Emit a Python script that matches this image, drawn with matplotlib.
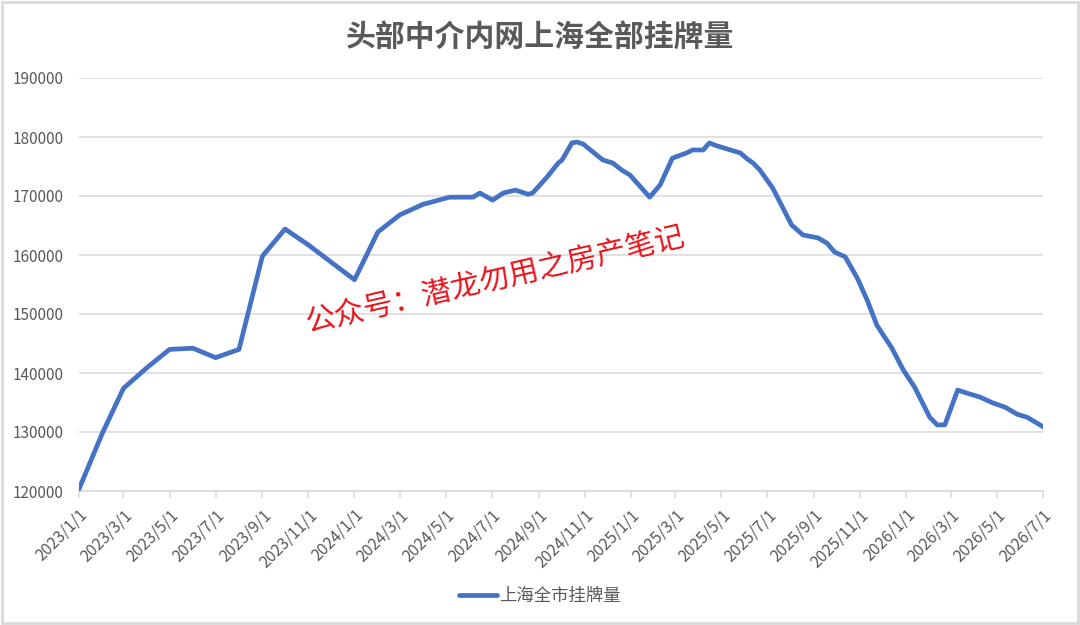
import matplotlib
matplotlib.use("Agg")
import matplotlib.pyplot as plt
import pandas as pd
from matplotlib.patches import Rectangle

plt.rcParams['font.family'] = ['Noto Sans CJK SC', 'DejaVu Sans']

# ── data ──────────────────────────────────────────────────────────────────────
dates = [
    "2023-01-01", "2023-02-01", "2023-03-01", "2023-04-01", "2023-05-01",
    "2023-06-01", "2023-07-01", "2023-08-01", "2023-09-01", "2023-10-01",
    "2023-11-01", "2023-12-01", "2024-01-01", "2024-02-01", "2024-03-01",
    "2024-04-01", "2024-05-06", "2024-06-06", "2024-06-15", "2024-07-02",
    "2024-07-16", "2024-08-01", "2024-08-18", "2024-08-24", "2024-09-12",
    "2024-09-27", "2024-10-02", "2024-10-15", "2024-10-22", "2024-10-30",
    "2024-11-25", "2024-12-08", "2024-12-20", "2024-12-31", "2025-01-26",
    "2025-02-09", "2025-02-25", "2025-03-01", "2025-03-16", "2025-03-24",
    "2025-04-07", "2025-04-15", "2025-04-25", "2025-05-26", "2025-06-04",
    "2025-06-12", "2025-06-21", "2025-07-08", "2025-08-02", "2025-08-17",
    "2025-09-06", "2025-09-18", "2025-09-28", "2025-10-12", "2025-10-28",
    "2025-11-10", "2025-11-23", "2025-12-13", "2025-12-28", "2026-01-12",
    "2026-02-01", "2026-02-11", "2026-02-21", "2026-03-10", "2026-03-22",
    "2026-04-09", "2026-04-26", "2026-05-12", "2026-05-28", "2026-06-10",
    "2026-07-01",
]
listings = [
    120300, 129800, 137400, 140900, 144000,
    144200, 142600, 144000, 159800, 164400,
    161700, 158800, 155800, 163900, 166800,
    168600, 169800, 169800, 170500, 169300,
    170500, 171000, 170300, 170500, 173200,
    175600, 176100, 179000, 179150, 178800,
    176100, 175600, 174400, 173550, 169800,
    171900, 176400, 176600, 177300, 177800,
    177800, 179000, 178500, 177300, 176300,
    175600, 174400, 171350, 165100, 163400,
    162900, 162000, 160500, 159700, 156100,
    152400, 148100, 144200, 140500, 137600,
    132500, 131200, 131200, 137100, 136600,
    135900, 134900, 134200, 133000, 132500,
    130900,
]
tick_dates = pd.date_range("2023-01-01", "2026-07-01", freq="2MS")
tick_labels = [f"{d.year}/{d.month}/{d.day}" for d in tick_dates]
y_ticks = list(range(120000, 190001, 10000))

TITLE = "头部中介内网上海全部挂牌量"
SERIES = "上海全市挂牌量"
WATERMARK = "公众号：潜龙勿用之房产笔记"

BLUE = "#4472C4"
GREY_TXT = "#595959"
GRID = "#D9D9D9"

# ── figure ────────────────────────────────────────────────────────────────────
fig = plt.figure(figsize=(10.8, 6.25), dpi=100, facecolor="white")
ax = fig.add_axes([0.0731, 0.2144, 0.8926, 0.6608])

x = pd.to_datetime(dates)
ax.plot(x, listings, color=BLUE, lw=3.4, solid_joinstyle="round",
        solid_capstyle="round", label=SERIES, zorder=3)

ax.set_xlim(pd.Timestamp("2023-01-01"), pd.Timestamp("2026-07-01"))
ax.set_ylim(120000, 190000)
ax.set_yticks(y_ticks)
ax.set_yticklabels([str(v) for v in y_ticks])
ax.set_xticks(tick_dates)
ax.set_xticklabels(tick_labels, rotation=45, ha="right", rotation_mode="anchor")

ax.grid(axis="y", color=GRID, lw=1.1)
ax.set_axisbelow(True)
for s in ("top", "right", "left"):
    ax.spines[s].set_visible(False)
ax.spines["bottom"].set_color(GRID)
ax.spines["bottom"].set_linewidth(1.1)
ax.tick_params(axis="y", length=0, pad=11, labelsize=11, labelcolor=GREY_TXT)
ax.tick_params(axis="x", length=5, width=1.1, color=GRID, pad=6,
               labelsize=11.5, labelcolor=GREY_TXT)

fig.text(0.5, 0.941, TITLE, ha="center", va="center", fontsize=21.5,
         fontweight="bold", color=GREY_TXT)

# watermark
fig.text(0.459, 0.553, WATERMARK, ha="center", va="center", fontsize=21.5,
         color="#E8141B", rotation=13)

leg = fig.legend(loc="center", bbox_to_anchor=(0.5, 0.046), frameon=False,
                 fontsize=12.5, handlelength=2.2, handletextpad=0.15)
for t in leg.get_texts():
    t.set_color(GREY_TXT)

# chart border
fig.patches.append(Rectangle((0.002, 0.003), 0.996, 0.994, transform=fig.transFigure,
                             fill=False, edgecolor=GRID, lw=2))

fig.savefig("out.png", dpi=100, facecolor="white")
